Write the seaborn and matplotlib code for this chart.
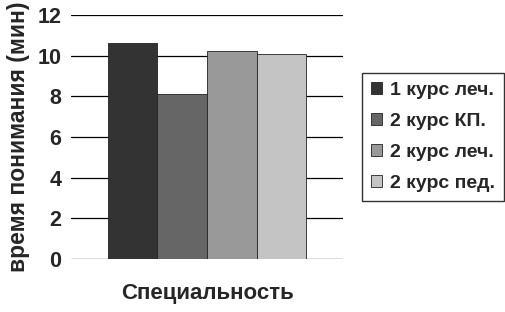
import matplotlib
matplotlib.use("Agg")
import matplotlib.pyplot as plt
import seaborn as sns
import pandas as pd

groups = ["1 курс леч.", "2 курс КП.", "2 курс леч.", "2 курс пед."]
values = [10.6, 8.1, 10.25, 10.1]
colors = ["#333333", "#666666", "#999999", "#c4c4c4"]
yticks = [0, 2, 4, 6, 8, 10, 12]

sns.set_theme(style="white")
plt.rcParams['font.family'] = ['Liberation Sans', 'DejaVu Sans']

df = pd.DataFrame({"cat": [""] * len(groups), "group": groups, "value": values})

fig = plt.figure(figsize=(5.05, 3.12), dpi=100)
ax = fig.add_axes([71/505, 53/312, 272/505, 244/312])

sns.barplot(data=df, x="cat", y="value", hue="group", hue_order=groups,
            palette=colors, width=0.73, edgecolor="#222222", linewidth=0.6,
            ax=ax, legend=True)

ax.set_ylim(0, 12)
ax.set_xlim(-0.5, 0.5)
ax.set_yticks(yticks)
ax.set_yticklabels([str(t) for t in yticks], fontsize=15.5, fontweight="bold")
ax.set_xticks([])
for t in yticks:
    ax.axhline(t, color="black", linewidth=0.9, zorder=0)
for s in ax.spines.values():
    s.set_visible(False)
ax.tick_params(axis="y", length=0, pad=7)

ax.set_ylabel("время понимания (мин)", fontsize=16.5, fontweight="bold", labelpad=5)
ax.set_xlabel("Специальность", fontsize=16, fontweight="bold", labelpad=17)

leg = ax.legend(loc="upper left", bbox_to_anchor=(362/505, 1 - 73/312),
                bbox_transform=fig.transFigure, frameon=True, fancybox=False,
                prop={"family": ["Liberation Sans", "DejaVu Sans"], "weight": "bold", "size": 14},
                handlelength=0.6, handleheight=0.6, handletextpad=0.4,
                labelspacing=0.72, borderpad=0.45, borderaxespad=0, title=None)
leg.get_frame().set_edgecolor("black")
leg.get_frame().set_linewidth(1.0)

fig.savefig("out.png", dpi=100)
